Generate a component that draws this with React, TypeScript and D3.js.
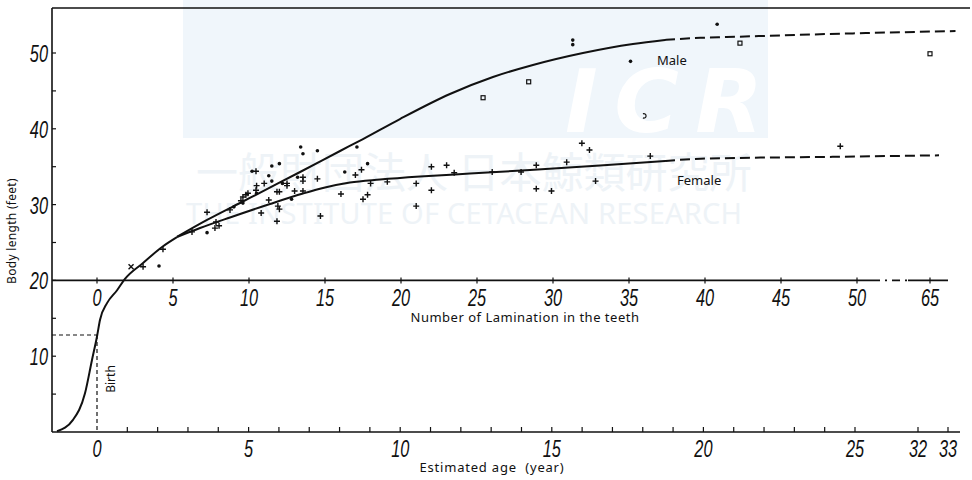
import * as d3 from "d3";

// growth curves, [laminations, body length ft]
const commonCurve: [number, number][] = [
  [-2.63, 0.1], [-1.58, 1.6], [-0.79, 5.1], [-0.33, 9.5], [0, 12.6],
  [0.2, 14.8], [0.66, 17.0], [1.32, 18.7], [1.84, 20.2], [3.03, 22.3],
  [4.28, 24.4], [5.26, 25.7],
];
const maleSolid: [number, number][] = [
  [5.26, 25.73], [7.24, 27.97], [9.41, 30.21], [11.84, 32.72], [13.36, 34.3],
  [15.99, 37.07], [17.5, 38.65], [19.93, 41.29], [23.22, 44.59], [26.05, 46.83],
  [28.68, 48.42], [31.97, 50.0], [35.26, 51.19], [37.37, 51.72],
];
const maleDashed: [number, number][] = [
  [37.37, 51.72], [39.7, 52.0], [41.4, 52.1], [46.25, 52.4], [50, 52.6], [66.7, 52.9],
];
const femaleSolid: [number, number][] = [
  [5.26, 25.73], [6.78, 26.91], [8.75, 28.3], [11.38, 30.08], [13.55, 31.46],
  [15.0, 32.26], [16.64, 32.92], [18.62, 33.31], [21.25, 33.71], [24.54, 34.1],
  [28.49, 34.56], [33.09, 35.16], [37.37, 35.75],
];
const femaleDashed: [number, number][] = [
  [37.37, 35.75], [39.7, 36.05], [48.4, 36.3], [65.6, 36.5],
];

// observations
const crossPts: [number, number][] = [
  [3.03, 21.8], [4.34, 24.1], [6.25, 26.4], [7.24, 29.0], [7.83, 27.7],
  [7.76, 26.9], [8.03, 27.2], [8.75, 29.3], [9.47, 30.5], [9.6, 31.0],
  [9.8, 31.3], [9.93, 31.5], [10.46, 34.4], [10.5, 32.5], [10.46, 31.9],
  [10.8, 28.9], [11.0, 32.8], [11.3, 30.6], [11.84, 31.7], [12.0, 31.7],
  [11.9, 29.8], [12.0, 29.4], [11.84, 27.8], [12.5, 32.8], [12.5, 32.5],
  [13.0, 31.8], [13.55, 33.6], [13.55, 33.1], [13.55, 31.8], [14.5, 33.4],
  [14.7, 28.5], [17.0, 33.9], [17.4, 34.6], [16.05, 31.4], [17.5, 30.7],
  [17.8, 31.3], [18.0, 32.8], [19.1, 33.0], [21.0, 32.8], [21.0, 29.8],
  [22.0, 35.0], [23.0, 35.2], [22.0, 31.9], [23.5, 34.2], [26.0, 34.3],
  [27.9, 34.3], [28.9, 35.2], [28.9, 32.1], [29.9, 31.8], [30.9, 35.6],
  [31.9, 38.1], [32.4, 37.2], [32.8, 33.1], [36.4, 36.4], [48.9, 37.7],
];
const dotPts: [number, number][] = [
  [4.08, 21.9], [7.24, 26.3], [9.01, 29.7], [9.6, 30.2], [10.2, 34.4],
  [10.5, 31.5], [11.3, 33.8], [11.5, 35.1], [12.0, 35.4], [11.5, 33.1],
  [12.2, 32.8], [12.8, 30.7], [13.4, 37.6], [13.55, 36.7], [13.2, 33.6],
  [14.5, 37.1], [17.1, 37.6], [16.3, 34.3], [17.8, 35.4], [31.3, 51.7],
  [31.3, 51.1], [35.1, 48.9], [40.8, 53.8],
];
const squarePts: [number, number][] = [
  [25.4, 44.1], [28.4, 46.2], [42.3, 51.3], [65, 49.9],
];
const xPts: [number, number][] = [[2.24, 21.8]];
const openPts: [number, number][] = [[36.05, 41.7]];

const lengthTicks = [10, 20, 30, 40, 50];
const laminationTicks = [0, 5, 10, 15, 20, 25, 30, 35, 40, 45, 50, 65];
const ageTicks = [0, 5, 10, 15, 20, 25, 32, 33];

const x = d3.scaleLinear().domain([0, 50, 65, 67]).range([97, 857, 930, 960]);
const xAge = d3.scaleLinear().domain([0, 25, 32, 33]).range([97, 855, 918, 948]);
const y = d3.scaleLinear().domain([0, 50]).range([432, 53]);

const line = d3
  .line<[number, number]>()
  .x((d) => x(d[0]))
  .y((d) => y(d[1]))
  .curve(d3.curveMonotoneX);

const NUM_FONT = "'Liberation Sans', 'DejaVu Sans', sans-serif";
const TXT_FONT = "'Noto Sans', 'DejaVu Sans', sans-serif";
const INK = "#111";

function Num({ x0, y0, t, anchor = "middle" }: { x0: number; y0: number; t: string; anchor?: string }) {
  return (
    <text
      transform={`translate(${x0},${y0}) scale(0.68,1)`}
      textAnchor={anchor}
      fontFamily={NUM_FONT}
      fontStyle="italic"
      fontSize={24}
      fill={INK}
    >
      {t}
    </text>
  );
}

export default function App() {
  const yMinor = d3.range(5, 55, 5);
  const ageMinor = d3.range(1, 25).concat([25, 32, 33]);
  const lamY = y(20);

  return (
    <svg
      width={972}
      height={480}
      style={{ position: "absolute", left: 0, top: 0, display: "block", background: "#fff" }}
    >
      {/* faint watermark of the scan */}
      <g>
        <rect x={183} y={0} width={585} height={138} fill="#f0f6fb" />
        <text x={565} y={132} fontFamily="'DejaVu Sans', sans-serif" fontWeight="bold" fontStyle="italic" fontSize={88} fill="#fff" textLength={198}>
          ICR
        </text>
        <text x={196} y={188} fontFamily="'Noto Sans CJK JP', sans-serif" fontSize={42} fill="#eef3f7">
          一般財団法人 日本鯨類研究所
        </text>
        <text x={186} y={224} fontFamily={TXT_FONT} fontSize={29} fill="#eef3f7" textLength={556}>
          THE INSTITUTE OF CETACEAN RESEARCH
        </text>
      </g>

      {/* frame */}
      <g stroke={INK} strokeWidth={1.6} fill="none">
        <line x1={52} x2={970} y1={8} y2={8} />
        <line x1={52} x2={52} y1={8} y2={432} />
        <line x1={52} x2={960} y1={432} y2={432} />
        <line x1={52} x2={872} y1={lamY} y2={lamY} />
        <line x1={872} x2={908} y1={lamY} y2={lamY} strokeDasharray="8 5 2 5" />
        <line x1={908} x2={948} y1={lamY} y2={lamY} />
      </g>

      {/* body length axis */}
      <g stroke={INK} strokeWidth={1.2}>
        {yMinor.map((v) => (
          <line key={v} x1={52} x2={56} y1={y(v)} y2={y(v)} />
        ))}
      </g>
      {lengthTicks.map((v) => (
        <Num key={v} x0={48} y0={y(v) + 9} t={String(v)} anchor="end" />
      ))}

      {/* lamination axis */}
      <g stroke={INK} strokeWidth={1.2}>
        {laminationTicks.map((v) => (
          <line key={v} x1={x(v)} x2={x(v)} y1={lamY - 3} y2={lamY + 3} />
        ))}
      </g>
      {laminationTicks.map((v) => (
        <Num key={v} x0={x(v)} y0={306} t={String(v)} />
      ))}
      <text x={525} y={322} textAnchor="middle" fontFamily={TXT_FONT} fontSize={13} letterSpacing={0.5} fill={INK}>
        Number of Lamination in the teeth
      </text>

      {/* age axis */}
      <g stroke={INK} strokeWidth={1.2}>
        {ageMinor.map((v) => (
          <line key={v} x1={xAge(v)} x2={xAge(v)} y1={432} y2={427} />
        ))}
      </g>
      {ageTicks.map((v) => (
        <Num key={v} x0={xAge(v)} y0={457} t={String(v)} />
      ))}
      <text x={492} y={472} textAnchor="middle" fontFamily={TXT_FONT} fontSize={13} letterSpacing={0.8} fill={INK}>
        Estimated age{"\u00a0\u00a0"}(year)
      </text>

      <text
        transform="translate(16,231) rotate(-90)"
        textAnchor="middle"
        fontFamily={TXT_FONT}
        fontSize={12}
        letterSpacing={0.3}
        fill={INK}
      >
        Body length (feet)
      </text>

      {/* birth marker */}
      <g stroke={INK} strokeWidth={1.2} strokeDasharray="4 3" fill="none">
        <line x1={52} x2={x(0)} y1={y(12.8)} y2={y(12.8)} />
        <line x1={x(0)} x2={x(0)} y1={y(12.8)} y2={432} />
      </g>
      <text transform="translate(115,379) rotate(-90)" textAnchor="middle" fontFamily={TXT_FONT} fontSize={12} fill={INK}>
        Birth
      </text>

      {/* curves */}
      <g fill="none" stroke={INK} strokeWidth={2}>
        <path d={line(commonCurve) ?? ""} />
        <path d={line(maleSolid) ?? ""} />
        <path d={line(femaleSolid) ?? ""} />
        <path d={line(maleDashed) ?? ""} strokeDasharray="10 5" />
        <path d={line(femaleDashed) ?? ""} strokeDasharray="10 5" />
      </g>
      <text x={657} y={65} fontFamily={TXT_FONT} fontSize={13} fill={INK}>
        Male
      </text>
      <text x={677} y={185} fontFamily={TXT_FONT} fontSize={13} fill={INK}>
        Female
      </text>

      {/* observations */}
      <g stroke={INK} strokeWidth={1.4}>
        {crossPts.map((d, i) => (
          <path key={i} d={`M${x(d[0]) - 3},${y(d[1])}h6M${x(d[0])},${y(d[1]) - 3}v6`} />
        ))}
        {xPts.map((d, i) => (
          <path
            key={i}
            d={`M${x(d[0]) - 2.5},${y(d[1]) - 2.5}l5,5M${x(d[0]) - 2.5},${y(d[1]) + 2.5}l5,-5`}
          />
        ))}
      </g>
      <g fill={INK}>
        {dotPts.map((d, i) => (
          <circle key={i} cx={x(d[0])} cy={y(d[1])} r={1.8} />
        ))}
      </g>
      <g fill="none" stroke={INK} strokeWidth={1.2}>
        {squarePts.map((d, i) => (
          <rect key={i} x={x(d[0]) - 2} y={y(d[1]) - 2} width={4} height={4} />
        ))}
        {openPts.map((d, i) => (
          <path key={i} d={`M${x(d[0]) - 2},${y(d[1]) - 2}a2.2,2.2 0 1 1 0,4`} />
        ))}
      </g>
    </svg>
  );
}
